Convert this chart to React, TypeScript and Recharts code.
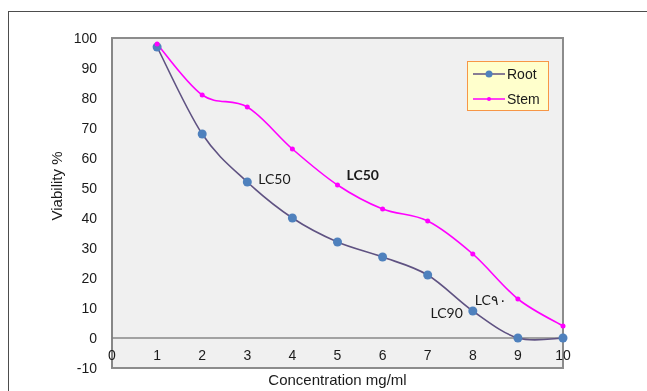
import React from 'react';
import { LineChart, Line, XAxis, YAxis, ReferenceArea, ReferenceLine, ReferenceDot, Legend, Label } from 'recharts';

const concentrations = [1, 2, 3, 4, 5, 6, 7, 8, 9, 10];
const rootValues = [97, 68, 52, 40, 32, 27, 21, 9, 0, 0];
const stemValues = [98, 81, 77, 63, 51, 43, 39, 28, 13, 4];
const xTicks = [0, 1, 2, 3, 4, 5, 6, 7, 8, 9, 10];
const yTicks = [-10, 0, 10, 20, 30, 40, 50, 60, 70, 80, 90, 100];

const annotations = [
  { text: 'LC50', x: 3, y: 52, bold: false, anchor: 'start', dx: 11, dy: 2 },
  { text: 'LC50', x: 5, y: 51, bold: true, anchor: 'start', dx: 9, dy: -5 },
  { text: 'LC90', x: 8, y: 9, bold: false, anchor: 'end', dx: -10, dy: 7 },
  { text: 'LC\u0669\u0660', x: 9, y: 13, bold: false, anchor: 'end', dx: -11, dy: 6 },
];

const data = concentrations.map((c, i) => ({ x: c, root: rootValues[i], stem: stemValues[i] }));

const ROOT_LINE = '#5f5282';
const ROOT_DOT = '#4f81bd';
const STEM = '#ff00ff';
const AXIS_FONT = '"Liberation Sans", Arial, sans-serif';

// Excel-like smoothed line (Catmull-Rom as cubic Bezier)
const excelSmooth: any = (context: any) => {
  let pts: number[][] = [];
  return {
    areaStart() {},
    areaEnd() {},
    lineStart() {
      pts = [];
    },
    lineEnd() {
      const n = pts.length;
      if (!n) return;
      context.moveTo(pts[0][0], pts[0][1]);
      for (let i = 0; i < n - 1; i++) {
        const p0 = pts[Math.max(i - 1, 0)];
        const p1 = pts[i];
        const p2 = pts[i + 1];
        const p3 = pts[Math.min(i + 2, n - 1)];
        context.bezierCurveTo(
          p1[0] + (p2[0] - p0[0]) / 6,
          p1[1] + (p2[1] - p0[1]) / 6,
          p2[0] - (p3[0] - p1[0]) / 6,
          p2[1] - (p3[1] - p1[1]) / 6,
          p2[0],
          p2[1]
        );
      }
    },
    point(x: number, y: number) {
      pts.push([+x, +y]);
    },
  };
};

const XTick = (props: any) => {
  const { x, y, payload } = props;
  return (
    <text x={x} y={y - 16} textAnchor="middle" fontSize={14} fontFamily={AXIS_FONT} fill="#1a1a1a">
      {payload.value}
    </text>
  );
};

const renderLegend = () => (
  <div
    style={{
      background: '#ffffcc',
      border: '1px solid #f79646',
      width: 82,
      height: 50,
      boxSizing: 'border-box',
      fontFamily: AXIS_FONT,
      fontSize: 14,
      color: '#1a1a1a',
      paddingTop: 2,
    }}
  >
    <div style={{ display: 'flex', alignItems: 'center', height: 20 }}>
      <svg width={39} height={10}>
        <line x1={5} y1={5} x2={37} y2={5} stroke={ROOT_LINE} strokeWidth={1.5} />
        <circle cx={21} cy={5} r={3.5} fill={ROOT_DOT} />
      </svg>
      <span>Root</span>
    </div>
    <div style={{ display: 'flex', alignItems: 'center', height: 20, marginTop: 5 }}>
      <svg width={39} height={10}>
        <line x1={5} y1={5} x2={37} y2={5} stroke={STEM} strokeWidth={1.5} />
        <circle cx={21} cy={5} r={2} fill={STEM} />
      </svg>
      <span>Stem</span>
    </div>
  </div>
);

export default function App() {
  return (
    <>
      <div
        style={{
          position: 'fixed',
          left: 8,
          top: 11,
          width: 700,
          height: 400,
          borderTop: '1.5px solid #4d4d4d',
          borderLeft: '1.5px solid #4d4d4d',
          boxSizing: 'border-box',
        }}
      />
      <div style={{ position: 'fixed', left: 0, top: 0 }}>
        <LineChart width={647} height={391} data={data} margin={{ top: 38, right: 84, bottom: 3, left: 52 }}>
          <ReferenceArea x1={0} x2={10} y1={-10} y2={100} fill="#f0f0f0" fillOpacity={1} stroke="#8c8c8c" strokeWidth={2} />
          <XAxis
            type="number"
            dataKey="x"
            domain={[0, 10]}
            ticks={xTicks}
            axisLine={false}
            tickLine={false}
            height={20}
            tick={<XTick />}
            interval={0}
          >
            <Label
              value="Concentration mg/ml"
              position="insideBottom"
              offset={3}
              style={{ fontSize: 15, fontFamily: AXIS_FONT, fill: '#1a1a1a' }}
            />
          </XAxis>
          <YAxis
            type="number"
            domain={[-10, 100]}
            ticks={yTicks}
            width={60}
            interval={0}
            axisLine={{ stroke: '#868686', strokeWidth: 1.5 }}
            tickLine={false}
            tickMargin={9}
            tick={{ fontSize: 14, fontFamily: AXIS_FONT, fill: '#1a1a1a' }}
          >
            <Label
              content={() => (
                <text
                  transform="translate(56,186) rotate(-90)"
                  textAnchor="middle"
                  dominantBaseline="central"
                  fontSize={15}
                  fontFamily={AXIS_FONT}
                  fill="#1a1a1a"
                >
                  Viability %
                </text>
              )}
            />
          </YAxis>
          <ReferenceLine y={0} stroke="#555555" strokeWidth={1.2} />
          <Line
            dataKey="root"
            type={excelSmooth}
            stroke={ROOT_LINE}
            strokeWidth={1.6}
            dot={{ r: 4.5, fill: ROOT_DOT, stroke: ROOT_DOT, strokeWidth: 0 }}
            isAnimationActive={false}
          />
          <Line
            dataKey="stem"
            type={excelSmooth}
            stroke={STEM}
            strokeWidth={1.6}
            dot={{ r: 2.5, fill: STEM, stroke: STEM, strokeWidth: 0 }}
            isAnimationActive={false}
          />
          {annotations.map((a, i) => (
            <ReferenceDot
              key={i}
              x={a.x}
              y={a.y}
              r={0}
              shape={(p: any) => (
                <text
                  x={p.cx + a.dx}
                  y={p.cy + a.dy}
                  textAnchor={a.anchor}
                  fontSize={14}
                  fontWeight={a.bold ? 700 : 400}
                  fontFamily="Lato, 'Open Sans', sans-serif"
                  fill="#1a1a1a"
                >
                  {a.text}
                </text>
              )}
            />
          ))}
          <Legend
            content={renderLegend}
            layout="horizontal"
            align="center"
            verticalAlign="middle"
            wrapperStyle={{ position: 'absolute', left: 467, top: 61, width: 82, height: 50 }}
          />
        </LineChart>
      </div>
    </>
  );
}
